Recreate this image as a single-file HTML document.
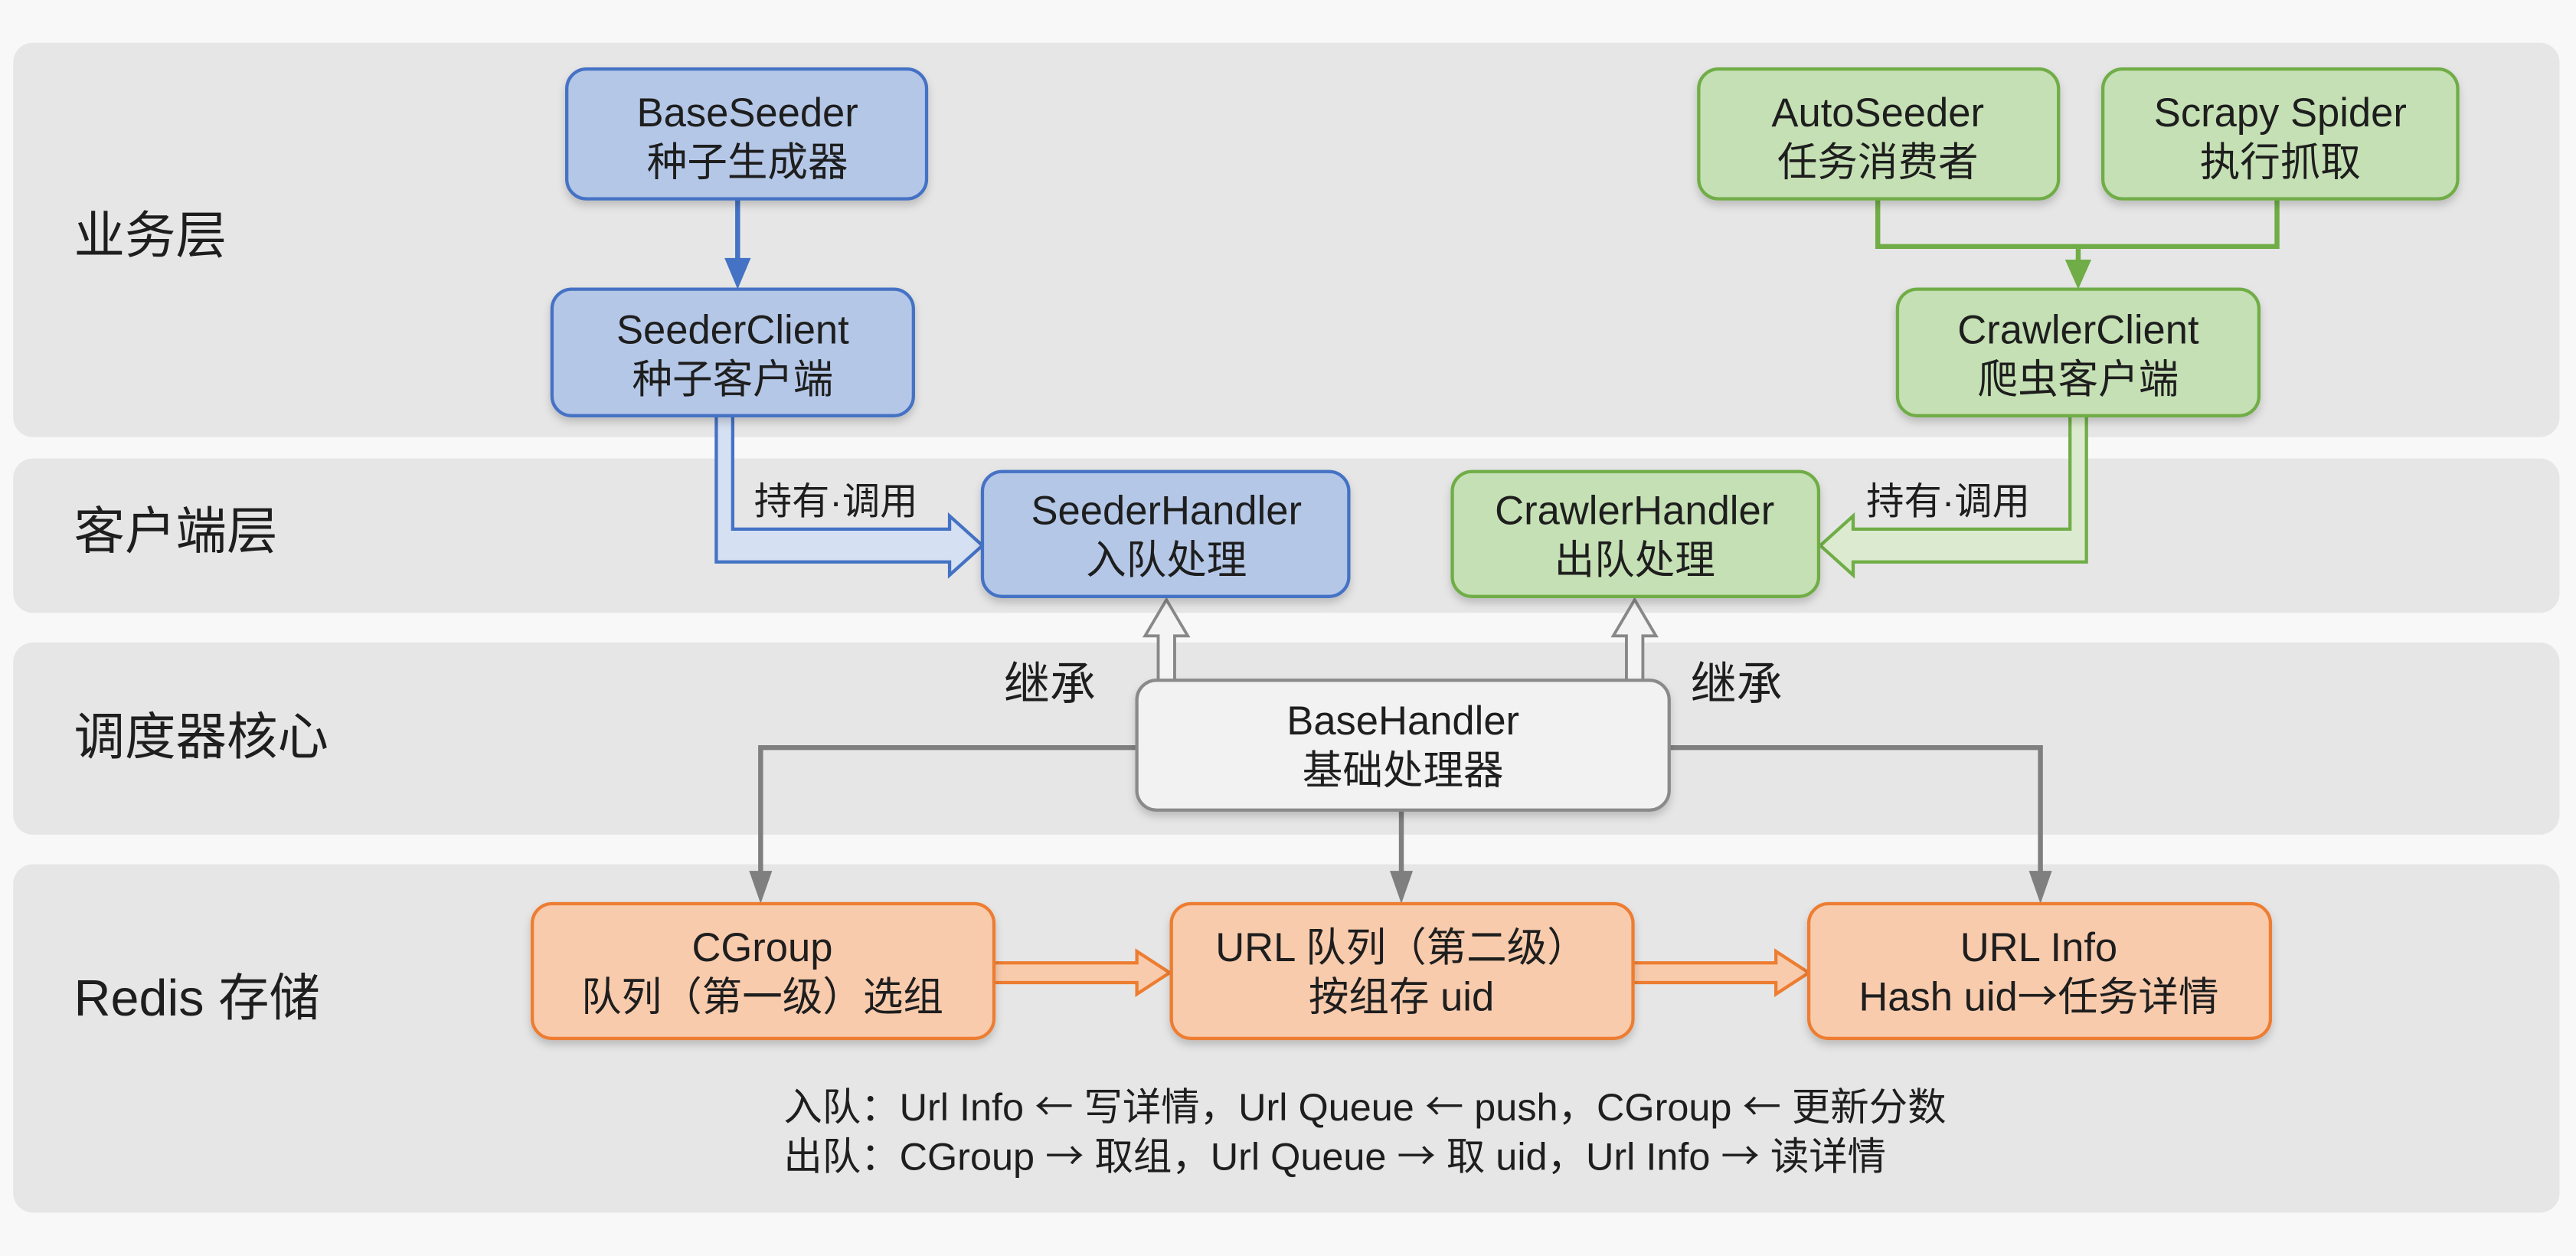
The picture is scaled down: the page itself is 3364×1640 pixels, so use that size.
<!DOCTYPE html>
<html><head><meta charset="utf-8"><style>
html,body{margin:0;padding:0;background:#f7f7f7;}
svg{display:block}
text{font-family:"Liberation Sans","Noto Sans CJK SC",sans-serif;fill:#1e1e1e;}
.ar{font-family:"Noto Sans CJK SC",sans-serif;}
</style></head><body>
<svg width="3364" height="1640" viewBox="0 0 1568 764.4" xmlns="http://www.w3.org/2000/svg">
<defs>
<filter id="sh" x="-10%" y="-10%" width="120%" height="130%"><feDropShadow dx="0" dy="3" stdDeviation="2.5" flood-color="#000" flood-opacity="0.18"/></filter>
</defs>
<rect x="0" y="0" width="1568" height="764.4" fill="#f8f8f8"/>
<rect x="8" y="26" width="1550" height="240" rx="12" fill="#e6e6e6"/>
<rect x="8" y="279" width="1550" height="94" rx="12" fill="#e6e6e6"/>
<rect x="8" y="391" width="1550" height="117" rx="12" fill="#e6e6e6"/>
<rect x="8" y="526" width="1550" height="212" rx="12" fill="#e6e6e6"/>

<g font-size="31">
<text x="45" y="154">业务层</text>
<text x="45" y="334">客户端层</text>
<text x="45" y="459">调度器核心</text>
<text x="45" y="618">Redis 存储</text>
</g>

<g stroke="#4472c4" stroke-width="3" fill="none"><line x1="449" y1="121" x2="449" y2="160"/></g>
<polygon points="441,157 457,157 449,176" fill="#4472c4"/>
<g stroke="#70ad47" stroke-width="3" fill="none"><polyline points="1143,121 1143,150 1386,150 1386,121"/><line x1="1265" y1="150" x2="1265" y2="162"/></g>
<polygon points="1257,158 1273,158 1265,176" fill="#70ad47"/>

<path d="M436,253 L436,342 L578,342 L578,350 L598,332 L578,314 L578,322 L446,322 L446,253" fill="#d5e0f2" stroke="#4472c4" stroke-width="2"/>
<path d="M1270,253 L1270,342 L1128,342 L1128,350 L1108,332 L1128,314 L1128,322 L1260,322 L1260,253" fill="#dcebd0" stroke="#70ad47" stroke-width="2"/>
<g font-size="23"><text x="459" y="313">持有·调用</text><text x="1136" y="313">持有·调用</text></g>

<path d="M705,414 L705,387 L697,387 L710,365 L723,387 L715,387 L715,414" fill="#f4f4f4" stroke="#888" stroke-width="1.8"/>
<path d="M990,414 L990,387 L982,387 L995,365 L1008,387 L1000,387 L1000,414" fill="#f4f4f4" stroke="#888" stroke-width="1.8"/>
<g font-size="28"><text x="611" y="426">继承</text><text x="1029" y="426">继承</text></g>

<g stroke="#7f7f7f" stroke-width="3" fill="none">
<polyline points="692,455 463,455 463,535"/>
<line x1="853" y1="493" x2="853" y2="535"/>
<polyline points="1016,455 1242,455 1242,535"/>
</g>
<g fill="#7f7f7f">
<polygon points="456,530 470,530 463,550"/>
<polygon points="846,530 860,530 853,550"/>
<polygon points="1235,530 1249,530 1242,550"/>
</g>

<path d="M605,586 L692,586 L692,579 L712,592 L692,605 L692,598 L605,598 Z" fill="#f8cbad" stroke="#ed7d31" stroke-width="2"/>
<path d="M994,586 L1081,586 L1081,579 L1101,592 L1081,605 L1081,598 L994,598 Z" fill="#f8cbad" stroke="#ed7d31" stroke-width="2"/>

<g filter="url(#sh)" stroke-width="2">
<rect x="345" y="42" width="219" height="79" rx="12" fill="#b4c7e7" stroke="#4472c4"/>
<rect x="336" y="176" width="220" height="77" rx="12" fill="#b4c7e7" stroke="#4472c4"/>
<rect x="1034" y="42" width="219" height="79" rx="12" fill="#c5e0b4" stroke="#70ad47"/>
<rect x="1280" y="42" width="216" height="79" rx="12" fill="#c5e0b4" stroke="#70ad47"/>
<rect x="1155" y="176" width="220" height="77" rx="12" fill="#c5e0b4" stroke="#70ad47"/>
<rect x="598" y="287" width="223" height="76" rx="12" fill="#b4c7e7" stroke="#4472c4"/>
<rect x="884" y="287" width="223" height="76" rx="12" fill="#c5e0b4" stroke="#70ad47"/>
<rect x="692" y="414" width="324" height="79" rx="12" fill="#f2f2f2" stroke="#8a8a8a"/>
<rect x="324" y="550" width="281" height="82" rx="12" fill="#f8cbad" stroke="#ed7d31"/>
<rect x="713" y="550" width="281" height="82" rx="12" fill="#f8cbad" stroke="#ed7d31"/>
<rect x="1101" y="550" width="281" height="82" rx="12" fill="#f8cbad" stroke="#ed7d31"/>
</g>

<g font-size="24.5" text-anchor="middle">
<text x="455" y="77">BaseSeeder</text><text x="455" y="107">种子生成器</text>
<text x="446" y="209">SeederClient</text><text x="446" y="239">种子客户端</text>
<text x="1143" y="77">AutoSeeder</text><text x="1143" y="107">任务消费者</text>
<text x="1388" y="77">Scrapy Spider</text><text x="1388" y="107">执行抓取</text>
<text x="1265" y="209">CrawlerClient</text><text x="1265" y="239">爬虫客户端</text>
<text x="710" y="319">SeederHandler</text><text x="710" y="349">入队处理</text>
<text x="854" y="447">BaseHandler</text><text x="854" y="477">基础处理器</text>
<text x="995" y="319">CrawlerHandler</text><text x="995" y="349">出队处理</text>
<text x="464" y="585">CGroup</text><text x="464" y="615">队列（第一级）选组</text>
<text x="853" y="585">URL 队列（第二级）</text><text x="853" y="615">按组存 uid</text>
<text x="1241" y="585">URL Info</text><text x="1241" y="615">Hash uid<tspan class="ar">→</tspan>任务详情</text>
</g>
<g font-size="23.5">
<text x="477" y="682">入队：Url Info <tspan class="ar">←</tspan> 写详情，Url Queue <tspan class="ar">←</tspan> push，CGroup <tspan class="ar">←</tspan> 更新分数</text>
<text x="477" y="712">出队：CGroup <tspan class="ar">→</tspan> 取组，Url Queue <tspan class="ar">→</tspan> 取 uid，Url Info <tspan class="ar">→</tspan> 读详情</text>
</g>
</svg>
</body></html>
